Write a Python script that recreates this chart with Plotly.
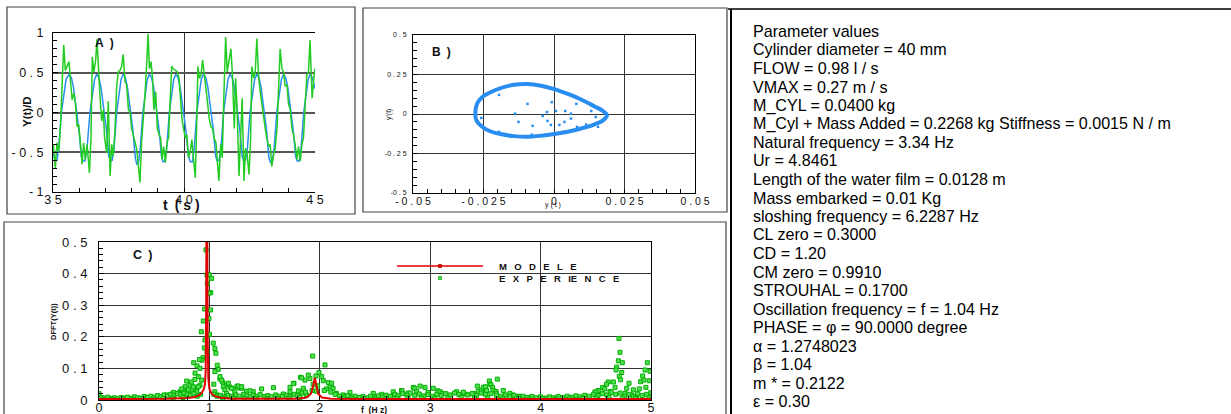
import plotly.graph_objects as go

W, H = 1231, 414

# ---------------- Panel A : Y(t)/D time series ----------------
tA_model = [35.00, 35.08, 35.15, 35.22, 35.32, 35.41, 35.50, 35.62,
            35.70, 35.78, 35.89, 35.99, 36.08, 36.14, 36.22, 36.30, 36.41, 36.50, 36.59, 36.67,
            36.75, 36.83, 36.94, 37.04, 37.13, 37.19, 37.26, 37.33, 37.43, 37.52, 37.60, 37.68,
            37.76, 37.84, 37.95, 38.05, 38.14, 38.20, 38.26, 38.33, 38.43, 38.52, 38.60, 38.68,
            38.76, 38.84, 38.95, 39.05, 39.14, 39.20, 39.27, 39.34, 39.44, 39.53, 39.61, 39.69,
            39.77, 39.86, 39.97, 40.07, 40.17, 40.24, 40.32, 40.39, 40.49, 40.58, 40.66, 40.75,
            40.83, 40.91, 41.02, 41.12, 41.21, 41.27, 41.34, 41.41, 41.51, 41.60, 41.68, 41.76,
            41.84, 41.92, 42.03, 42.13, 42.22, 42.28, 42.35, 42.42, 42.52, 42.61, 42.70, 42.78,
            42.86, 42.94, 43.05, 43.15, 43.24, 43.30, 43.37, 43.44, 43.54, 43.63, 43.72, 43.80,
            43.88, 43.96, 44.07, 44.17, 44.26, 44.32, 44.40, 44.47, 44.57, 44.66, 44.74, 44.82,
            44.90, 45.00]
yA_model = [-0.50, -0.61, -0.60, -0.45, 0.00, 0.24, 0.42, 0.48,
            0.44, 0.32, 0.06, -0.22, -0.55, -0.61, -0.61, -0.45, 0.00, 0.24, 0.42, 0.48,
            0.44, 0.32, 0.06, -0.22, -0.55, -0.60, -0.60, -0.45, 0.00, 0.24, 0.42, 0.48,
            0.44, 0.32, 0.06, -0.22, -0.57, -0.65, -0.64, -0.45, 0.00, 0.24, 0.42, 0.48,
            0.44, 0.32, 0.06, -0.22, -0.55, -0.62, -0.61, -0.45, 0.00, 0.24, 0.42, 0.48,
            0.44, 0.30, 0.06, -0.22, -0.55, -0.62, -0.62, -0.45, 0.00, 0.24, 0.42, 0.48,
            0.44, 0.32, 0.06, -0.22, -0.55, -0.61, -0.60, -0.45, 0.00, 0.24, 0.42, 0.48,
            0.44, 0.32, 0.06, -0.22, -0.55, -0.61, -0.60, -0.45, 0.00, 0.24, 0.42, 0.48,
            0.44, 0.32, 0.06, -0.22, -0.57, -0.63, -0.62, -0.45, 0.00, 0.24, 0.42, 0.48,
            0.44, 0.32, 0.06, -0.22, -0.55, -0.61, -0.61, -0.45, 0.00, 0.24, 0.42, 0.48,
            0.44, 0.30]

tA_exp = [35.01, 35.09, 35.15, 35.22, 35.28, 35.34, 35.41, 35.47, 35.55, 35.61, 35.67, 35.73,
          35.79, 35.85, 35.92, 35.98, 36.04, 36.11, 36.17, 36.23, 36.30, 36.39, 36.45, 36.50,
          36.56, 36.63, 36.68, 36.74, 36.79, 36.86, 36.92, 36.97, 37.05, 37.11, 37.18, 37.24,
          37.30, 37.37, 37.43, 37.49, 37.56, 37.62, 37.68, 37.75, 37.81, 37.88, 37.94, 38.00,
          38.07, 38.13, 38.19, 38.26, 38.32, 38.38, 38.45, 38.51, 38.58, 38.63, 38.68, 38.74,
          38.80, 38.85, 38.92, 38.98, 39.05, 39.11, 39.16, 39.22, 39.29, 39.35, 39.41, 39.48,
          39.53, 39.59, 39.67, 39.75, 39.81, 39.87, 39.92, 39.98, 40.05, 40.11, 40.17, 40.24,
          40.30, 40.37, 40.43, 40.48, 40.53, 40.59, 40.65, 40.71, 40.77, 40.84, 40.90, 40.96,
          41.03, 41.09, 41.15, 41.22, 41.28, 41.33, 41.40, 41.46, 41.52, 41.59, 41.65, 41.71,
          41.79, 41.85, 41.92, 41.97, 42.03, 42.10, 42.16, 42.22, 42.29, 42.35, 42.41, 42.48,
          42.54, 42.59, 42.66, 42.72, 42.78, 42.85, 42.91, 42.97, 43.04, 43.10, 43.16, 43.23,
          43.29, 43.35, 43.42, 43.48, 43.55, 43.61, 43.67, 43.74, 43.80, 43.86, 43.93, 43.99,
          44.05, 44.12, 44.18, 44.25, 44.31, 44.37, 44.44, 44.50, 44.56, 44.63, 44.69, 44.75,
          44.81, 44.89, 44.99]
yA_exp = [-0.40, -0.70, -0.38, -0.49, -0.20, 0.22, 0.85, 0.53, 0.60, 0.64, 0.39, 0.16,
          0.24, 0.14, -0.18, -0.15, -0.36, -0.65, -0.38, -0.59, -0.40, -0.76, -0.32, 0.70,
          0.51, 0.66, 0.92, 0.45, 0.22, -0.11, 0.03, -0.32, -0.51, 0.14, -0.80, -0.40,
          -0.55, -0.20, 0.33, 0.51, 0.53, 0.58, 0.73, 0.39, 0.35, 0.03, 0.01, -0.20,
          -0.28, -0.36, -0.45, -0.68, -0.88, -0.38, -0.11, 0.22, 0.64, 0.99, 0.55, 0.64,
          0.43, 0.03, 0.26, -0.20, -0.28, -0.32, -0.59, -0.43, -0.63, -0.38, -0.32, 0.22,
          0.58, 0.55, 0.53, 0.51, 0.43, 0.18, -0.07, -0.20, -0.32, -0.28, -0.57, -0.49,
          -0.34, -0.61, -0.82, -0.20, 0.58, 0.43, 0.47, 0.66, 0.51, 0.33, 0.12, -0.07,
          -0.18, -0.20, -0.32, -0.38, -0.65, -0.86, -0.40, -0.57, 0.18, 0.95, 0.51, 0.66,
          0.80, 0.47, -0.20, 0.43, 0.01, -0.80, -0.32, 0.18, -0.86, -0.45, -0.53, -0.78,
          -0.36, 0.58, 0.43, 0.51, 0.93, 0.45, 0.26, 0.10, -0.07, -0.20, -0.32, -0.43,
          -0.40, -0.68, -0.53, -0.45, -0.20, 0.33, 0.80, 0.55, 0.51, 0.33, 0.35, 0.10,
          0.05, -0.20, -0.28, -0.43, -0.59, -0.43, -0.61, -0.40, -0.32, 0.14, 0.47, 0.51,
          0.91, 0.18, 0.55]

A_xticks = [35, 40, 45]
A_xtext = ["3 5", "4 0", "4 5"]
A_yticks = [-1, -0.5, 0, 0.5, 1]
A_ytext = ["- 1", "- 0 . 5", "0", "0 . 5", "1"]

# ---------------- Panel B : phase portrait ----------------
loop_x = [-0.0279, -0.0273, -0.0255, -0.0225, -0.0189, -0.0142, -0.0094, -0.0046, 0.0001,
          0.0049, 0.0096, 0.0144, 0.0174, 0.0188, 0.0174, 0.0144, 0.0096, 0.0049, 0.0001,
          -0.0046, -0.0094, -0.0142, -0.0189, -0.0231, -0.0261, -0.0275, -0.0279]
loop_y = [-0.008, 0.064, 0.106, 0.1375, 0.164, 0.185, 0.190, 0.179, 0.158,
          0.127, 0.092, 0.048, 0.019, -0.008, -0.040, -0.065, -0.092, -0.1125, -0.127,
          -0.1375, -0.144, -0.140, -0.127, -0.106, -0.071, -0.040, -0.008]
dots_x = [-0.0195, -0.0094, -0.0008, -0.0138, -0.0258, -0.0025, 0.0007, 0.0040, -0.0040,
          0.0060, 0.0079, 0.0132, 0.0148, -0.0023, -0.0126, -0.0076, -0.0011, 0.0019,
          0.0037, 0.0060, 0.0082, 0.0114, 0.0156, -0.0195, -0.0079, 0.0037]
dots_y = [0.121, 0.064, 0.075, 0.002, -0.025, 0.0125, 0.019, 0.019, -0.0125,
          0.002, 0.064, 0.019, -0.019, -0.044, -0.050, -0.075, -0.069, -0.069,
          -0.050, -0.029, -0.081, -0.067, -0.081, -0.1125, -0.131, -0.1125]

B_xticks = [-0.05, -0.025, 0, 0.025, 0.05]
B_xtext = ["- 0 . 0 5", "- 0 . 0 2 5", "0", "0 . 0 2 5", "0 . 0 5"]
B_yticks = [-0.5, -0.25, 0, 0.25, 0.5]
B_ytext = ["-0 . 5", "-0 . 2 5", "0", "0 . 2 5", "0 . 5"]

# ---------------- Panel C : spectra ----------------
f_model = [0.0, 0.3, 0.6, 0.8, 0.86, 0.9, 0.93, 0.95, 0.96, 0.966, 0.971, 0.975, 0.979,
           0.984, 0.99, 1.0, 1.02, 1.05, 1.1, 1.2, 1.5, 1.8, 1.88, 1.92, 1.94, 1.955,
           1.97, 1.985, 2.02, 2.1, 2.5, 3.0, 3.5, 4.0, 4.5, 5.0]
a_model = [0.003, 0.003, 0.004, 0.006, 0.009, 0.014, 0.022, 0.035, 0.05, 0.09, 0.3, 0.8, 0.8,
           0.2, 0.07, 0.035, 0.02, 0.012, 0.007, 0.004, 0.003, 0.004, 0.008, 0.02, 0.045, 0.07,
           0.045, 0.02, 0.008, 0.004, 0.003, 0.003, 0.003, 0.003, 0.003, 0.003]

f_exp = [
    # around 1 Hz
    0.969, 0.978, 0.999, 1.020, 0.981, 1.012, 0.998, 0.957, 1.011, 0.945, 0.996, 0.927,
    0.981, 1.000, 0.960, 1.035, 1.050, 1.059, 0.954, 0.978, 0.942, 0.933, 0.909, 0.858,
    0.888, 1.071, 1.080, 1.050, 0.915, 0.794, 0.824, 0.780, 0.839, 0.869, 0.900, 0.930,
    0.915, 0.888, 0.764, 0.733, 0.673, 0.612, 1.095, 1.120, 1.156, 1.187, 1.217, 1.250,
    1.276, 1.336, 1.397, 1.473, 1.580, 1.670, 1.730, 0.839, 0.884, 0.809, 0.719, 0.854,
    1.126, 1.140, 1.171, 1.200, 1.230, 1.290, 1.156, 1.066, 1.050, 0.900, 1.040, 0.750,
    0.810, 0.870, 1.110, 1.096, 1.262, 1.293, 1.368,
    # around 2 Hz
    1.766, 1.806, 1.826, 1.851, 1.866, 1.881, 1.911, 1.936, 1.965, 1.993, 2.017, 2.032,
    2.047, 2.077, 2.092, 2.107, 2.120, 2.150, 2.210, 2.273, 1.730, 1.940, 1.980, 2.060,
    1.896, 1.836, 1.760,
    # 2.5 - 3.1 Hz
    2.484, 2.560, 2.665, 2.670, 2.740, 2.745, 2.800, 2.847, 2.860, 2.877, 2.908, 2.953,
    2.980, 3.028, 3.070, 3.090, 3.110,
    # 3.2 - 3.8 Hz
    3.240, 3.300, 3.330, 3.391, 3.427, 3.436, 3.465, 3.481, 3.500, 3.511, 3.536, 3.541,
    3.550, 3.565, 3.570, 3.595, 3.600, 3.608, 3.662, 3.722, 3.750, 3.804,
    # 4.4 - 5 Hz
    4.710, 4.719, 4.704, 4.740, 4.689, 4.683, 4.735, 4.713, 4.725, 4.613, 4.659, 4.674,
    4.598, 4.562, 4.523, 4.492, 4.801, 4.780, 4.840, 4.825, 4.894, 4.906, 4.924, 4.946,
    4.967, 4.991, 4.936, 4.985, 4.954, 4.997, 4.869, 4.765, 4.628, 4.580, 4.500,
    # background band
    0.00, 0.02, 0.05, 0.08, 0.11, 0.14, 0.17, 0.20, 0.23, 0.26, 0.29, 0.32, 0.35, 0.38,
    0.41, 0.44, 0.47, 0.50, 0.53, 0.56, 0.59, 0.62, 0.65, 0.68, 0.71, 0.74, 0.77, 0.80,
    0.83, 0.86, 0.89, 0.92, 1.04, 1.07, 1.10, 1.13, 1.17, 1.20, 1.24, 1.27, 1.31, 1.34,
    1.37, 1.40, 1.43, 1.46, 1.50, 1.53, 1.56, 1.60, 1.63, 1.66, 1.70, 1.73, 1.77, 1.80,
    1.84, 1.87, 1.93, 1.97, 2.04, 2.10, 2.14, 2.18, 2.22, 2.25, 2.29, 2.32, 2.36, 2.39,
    2.43, 2.46, 2.50, 2.53, 2.57, 2.60, 2.64, 2.68, 2.71, 2.75, 2.79, 2.82, 2.86, 2.90,
    2.94, 2.98, 3.02, 3.06, 3.10, 3.14, 3.18, 3.22, 3.26, 3.30, 3.34, 3.38, 3.42, 3.46,
    3.50, 3.55, 3.60, 3.64, 3.68, 3.72, 3.76, 3.80, 3.84, 3.88, 3.92, 3.96, 4.00, 4.04,
    4.08, 4.12, 4.16, 4.20, 4.24, 4.28, 4.32, 4.36, 4.40, 4.44, 4.48, 4.52, 4.56, 4.60,
    4.64, 4.68, 4.72, 4.76, 4.80, 4.84, 4.88, 4.92, 4.96, 5.00,
    0.04, 0.12, 0.22, 0.31, 0.40, 0.49, 0.58, 0.67, 0.76, 1.12, 1.22, 1.32, 1.42, 1.52,
    1.62, 1.72, 1.82, 2.20, 2.30, 2.40, 2.50, 2.60, 2.70, 2.80, 2.92, 3.04, 3.16, 3.28,
    3.40, 3.52, 3.66, 3.78, 3.90, 4.02, 4.14, 4.26, 4.38, 4.50, 4.62, 4.74, 4.86, 4.98]
a_exp = [
    0.475, 0.396, 0.396, 0.385, 0.369, 0.340, 0.338, 0.288, 0.285, 0.250, 0.258, 0.216,
    0.205, 0.208, 0.190, 0.180, 0.163, 0.148, 0.165, 0.153, 0.134, 0.126, 0.128, 0.118,
    0.108, 0.110, 0.097, 0.090, 0.100, 0.060, 0.047, 0.042, 0.057, 0.065, 0.074, 0.063,
    0.047, 0.037, 0.031, 0.026, 0.024, 0.016, 0.067, 0.057, 0.048, 0.041, 0.036, 0.044,
    0.038, 0.028, 0.026, 0.035, 0.039, 0.019, 0.026, 0.026, 0.026, 0.021, 0.021, 0.042,
    0.042, 0.032, 0.053, 0.037, 0.026, 0.037, 0.021, 0.016, 0.026, 0.042, 0.050, 0.035,
    0.032, 0.085, 0.063, 0.074, 0.044, 0.042, 0.029,
    0.053, 0.029, 0.072, 0.037, 0.063, 0.016, 0.068, 0.139, 0.076, 0.087, 0.074, 0.061,
    0.111, 0.055, 0.042, 0.053, 0.037, 0.021, 0.016, 0.024, 0.040, 0.050, 0.045, 0.035,
    0.079, 0.070, 0.052,
    0.021, 0.018, 0.026, 0.016, 0.030, 0.029, 0.022, 0.040, 0.037, 0.027, 0.044, 0.040,
    0.024, 0.037, 0.029, 0.026, 0.021,
    0.026, 0.021, 0.018, 0.021, 0.044, 0.027, 0.031, 0.040, 0.042, 0.030, 0.060, 0.050,
    0.048, 0.040, 0.031, 0.027, 0.021, 0.066, 0.030, 0.021, 0.016, 0.012,
    0.195, 0.151, 0.124, 0.118, 0.104, 0.095, 0.087, 0.075, 0.064, 0.057, 0.057, 0.040,
    0.050, 0.040, 0.030, 0.025, 0.053, 0.037, 0.032, 0.016, 0.035, 0.058, 0.076, 0.095,
    0.118, 0.091, 0.063, 0.061, 0.040, 0.023, 0.012, 0.021, 0.027, 0.035, 0.026,
    0.020, 0.008, 0.006, 0.009, 0.005, 0.007, 0.004, 0.008, 0.006, 0.009, 0.005, 0.010,
    0.007, 0.006, 0.011, 0.008, 0.012, 0.009, 0.014, 0.011, 0.016, 0.012, 0.018, 0.014,
    0.020, 0.017, 0.022, 0.018, 0.015, 0.020, 0.012, 0.018, 0.018, 0.012, 0.015, 0.010,
    0.014, 0.011, 0.016, 0.012, 0.018, 0.013, 0.010, 0.015, 0.012, 0.017, 0.011, 0.014,
    0.010, 0.016, 0.012, 0.011, 0.015, 0.012, 0.018, 0.014, 0.022, 0.025, 0.030, 0.028,
    0.030, 0.025, 0.018, 0.012, 0.010, 0.014, 0.009, 0.012, 0.008, 0.011, 0.007, 0.012,
    0.009, 0.013, 0.010, 0.015, 0.012, 0.018, 0.014, 0.020, 0.016, 0.022, 0.015, 0.019,
    0.013, 0.017, 0.012, 0.018, 0.014, 0.020, 0.016, 0.022, 0.018, 0.025, 0.016, 0.020,
    0.015, 0.022, 0.018, 0.020, 0.015, 0.012, 0.016, 0.010, 0.014, 0.009, 0.012, 0.008,
    0.011, 0.007, 0.010, 0.006, 0.010, 0.007, 0.011, 0.008, 0.012, 0.009, 0.013, 0.010,
    0.015, 0.012, 0.018, 0.014, 0.020, 0.016, 0.024, 0.018, 0.022, 0.012, 0.018, 0.010,
    0.020, 0.014, 0.018, 0.012,
    0.003, 0.002, 0.003, 0.002, 0.004, 0.003, 0.005, 0.006, 0.008, 0.006, 0.005, 0.004,
    0.005, 0.004, 0.005, 0.006, 0.008, 0.004, 0.003, 0.004, 0.003, 0.005, 0.006, 0.007,
    0.006, 0.005, 0.007, 0.008, 0.007, 0.006, 0.005, 0.004, 0.003, 0.004, 0.003, 0.004,
    0.005, 0.006, 0.008, 0.006, 0.005, 0.006]

C_xticks = [0, 1, 2, 3, 4, 5]
C_xtext = ["0", "1", "2", "3", "4", "5"]
C_yticks = [0, 0.1, 0.2, 0.3, 0.4, 0.5]
C_ytext = ["0", "0 . 1", "0 . 2", "0 . 3", "0 . 4", "0 . 5"]

legend_names = ["M\u00a0\u2002O\u00a0\u2002D\u00a0\u2002E\u00a0\u2002L\u00a0\u2002E",
                "E\u00a0\u2002X\u00a0\u2002P\u00a0\u2002E\u00a0\u2002R\u00a0\u2002IE\u00a0\u2002N\u00a0\u2002C\u00a0\u2002E"]

# ---------------- Parameter text ----------------
param_lines = [
    "Parameter values",
    "Cylinder diameter = 40 mm",
    "FLOW = 0.98 l / s",
    "VMAX = 0.27 m / s",
    "M_CYL = 0.0400 kg",
    "M_Cyl + Mass Added = 0.2268 kg Stiffness = 0.0015 N / m",
    "Natural frequency = 3.34 Hz",
    "Ur = 4.8461",
    "Length of the water film = 0.0128 m",
    "Mass embarked = 0.01 Kg",
    "sloshing frequency = 6.2287 Hz",
    "CL zero = 0.3000",
    "CD = 1.20",
    "CM zero = 0.9910",
    "STROUHAL = 0.1700",
    "Oscillation frequency = f = 1.04 Hz",
    "PHASE = \u03c6 = 90.0000 degree",
    "\u03b1 = 1.2748023",
    "\u03b2 = 1.04",
    "m * = 0.2122",
    "\u03b5 = 0.30",
]

# ---------------- helpers (pixel -> paper) ----------------
def px(x):
    return x / W


def py(y):
    return 1 - y / H


FONT = "Liberation Sans, Arial, Helvetica, sans-serif"
BLUE = "#2a8ef0"
GREEN = "#22cc22"
RED = "#e00000"

fig = go.Figure()

fig.add_trace(go.Scatter(x=tA_model, y=yA_model, mode="lines", xaxis="x", yaxis="y",
                         line=dict(color=BLUE, width=1.5), showlegend=False))
fig.add_trace(go.Scatter(x=tA_exp, y=yA_exp, mode="lines", xaxis="x", yaxis="y",
                         line=dict(color=GREEN, width=1.5), showlegend=False))

fig.add_trace(go.Scatter(x=loop_x, y=loop_y, mode="lines", xaxis="x2", yaxis="y2",
                         line=dict(color=BLUE, width=4, shape="spline", smoothing=1.0),
                         showlegend=False))
fig.add_trace(go.Scatter(x=dots_x, y=dots_y, mode="markers", xaxis="x2", yaxis="y2",
                         marker=dict(color=BLUE, size=2.5, symbol="square"),
                         showlegend=False))

fig.add_trace(go.Scatter(x=f_exp, y=a_exp, mode="markers", xaxis="x3", yaxis="y3",
                         marker=dict(color="#55dd55", size=4, symbol="square",
                                     line=dict(color="#00b000", width=1)),
                         showlegend=False))
fig.add_trace(go.Scatter(x=f_model, y=a_model, mode="lines", xaxis="x3", yaxis="y3",
                         line=dict(color=RED, width=2), showlegend=False))


def axis_common(**kw):
    d = dict(showline=True, linecolor="black", linewidth=1, ticks="inside",
             tickcolor="black", zeroline=False, showgrid=True, gridcolor="#333",
             gridwidth=1, tickmode="array", fixedrange=True, automargin=False,
             tickfont=dict(family=FONT, size=12, color="#111"))
    d.update(kw)
    return d


fig.update_layout(
    template="none",
    width=W, height=H, autosize=False,
    margin=dict(l=0, r=0, t=0, b=0, pad=0, autoexpand=False),
    paper_bgcolor="white", plot_bgcolor="white",
    font=dict(family=FONT, color="#111"),
    showlegend=False,
    xaxis=axis_common(domain=[px(53), px(315)], range=[35, 45], anchor="y",
                      tickvals=A_xticks, ticktext=A_xtext, ticklen=4, mirror=True,
                      ticklabelstandoff=-4,
                      tickfont=dict(family=FONT, size=12.5, color="#111"),
                      minor=dict(ticks="inside", dtick=1, tick0=35, ticklen=4,
                                 tickcolor="black", showgrid=False)),
    yaxis=axis_common(domain=[py(192), py(33)], range=[-1, 1], anchor="x",
                      tickvals=A_yticks, ticktext=A_ytext, ticklen=5, gridcolor="#555",
                      gridwidth=1.5, ticklabelstandoff=6,
                      tickfont=dict(family=FONT, size=12.5, color="#111"),
                      minor=dict(ticks="inside", dtick=0.1, tick0=0, ticklen=4,
                                 tickcolor="black", showgrid=False)),
    xaxis2=axis_common(domain=[px(413), px(695)], range=[-0.05, 0.05], anchor="y2",
                       tickvals=B_xticks, ticktext=B_xtext, ticklen=4, mirror=True,
                       ticklabelstandoff=-2,
                       tickfont=dict(family=FONT, size=10.5, color="#111"),
                       minor=dict(ticks="inside", dtick=0.005, tick0=0, ticklen=4,
                                  tickcolor="black", showgrid=False)),
    yaxis2=axis_common(domain=[py(193), py(35)], range=[-0.5, 0.5], anchor="x2",
                       tickvals=B_yticks, ticktext=B_ytext, ticklen=4, mirror=True,
                       ticklabelstandoff=4,
                       tickfont=dict(family=FONT, size=7, color="#111"),
                       minor=dict(ticks="inside", dtick=0.05, tick0=0, ticklen=4,
                                  tickcolor="black", showgrid=False)),
    xaxis3=axis_common(domain=[px(99), px(651)], range=[0, 5], anchor="y3",
                       tickvals=C_xticks, ticktext=C_xtext, ticklen=4, mirror=True,
                       ticklabelstandoff=-4,
                       tickfont=dict(family=FONT, size=12.5, color="#111"),
                       minor=dict(ticks="inside", dtick=0.2, tick0=0, ticklen=4,
                                  tickcolor="black", showgrid=False)),
    yaxis3=axis_common(domain=[py(400), py(242)], range=[0, 0.5], anchor="x3",
                       tickvals=C_yticks, ticktext=C_ytext, ticklen=5, mirror=True,
                       ticklabelstandoff=8,
                       tickfont=dict(family=FONT, size=13, color="#111"),
                       minor=dict(ticks="inside", dtick=0.02, tick0=0, ticklen=4,
                                  tickcolor="black", showgrid=False)),
)

shapes = []
# panel frames
for (x0, y0, x1, y1) in [(7, 7, 355, 214), (363, 8, 727, 212), (4, 222, 726, 430)]:
    shapes.append(dict(type="rect", xref="paper", yref="paper", x0=px(x0), x1=px(x1),
                       y0=py(y1), y1=py(y0), line=dict(color="#444", width=1.2),
                       fillcolor="rgba(0,0,0,0)", layer="below"))
# text box borders
shapes.append(dict(type="line", xref="paper", yref="paper", x0=px(731), x1=px(731),
                   y0=py(420), y1=py(9), line=dict(color="black", width=2)))
shapes.append(dict(type="line", xref="paper", yref="paper", x0=px(728), x1=px(1235),
                   y0=py(9), y1=py(9), line=dict(color="black", width=1.5)))
# legend keys for panel C
shapes.append(dict(type="line", xref="paper", yref="paper", x0=px(397), x1=px(483),
                   y0=py(266), y1=py(266), line=dict(color=RED, width=1.3)))
shapes.append(dict(type="rect", xref="paper", yref="paper", x0=px(438.5), x1=px(441.5),
                   y0=py(267.5), y1=py(264.5), line=dict(color="#b00000", width=0.8),
                   fillcolor=RED))
shapes.append(dict(type="rect", xref="paper", yref="paper", x0=px(438.5), x1=px(441.5),
                   y0=py(279.5), y1=py(276.5), line=dict(color="#00b000", width=0.8),
                   fillcolor="#55dd55"))
fig.update_layout(shapes=shapes)

ann = []


def add_text(text, x, y, size, bold=False, xanchor="center", yanchor="middle", angle=0,
             color="#111"):
    t = "<b>%s</b>" % text if bold else text
    ann.append(dict(text=t, x=px(x), y=py(y), xref="paper", yref="paper", showarrow=False,
                    xanchor=xanchor, yanchor=yanchor, textangle=angle,
                    font=dict(family=FONT, size=size, color=color)))


# panel labels
add_text("A\u2002)", 104, 43, 12, bold=True)
add_text("B\u2002)", 441, 52, 12, bold=True)
add_text("C\u2002)", 142, 255, 12.5, bold=True)
# axis titles
add_text("Y(t)/D", 27, 111, 11.5, bold=True, angle=-90)
add_text("t\u2002(\u00a0s\u00a0)", 181, 205, 14, bold=True)
add_text("y'(t)", 389, 115, 7, angle=-90)
add_text("y ( t )", 553, 205, 7)
add_text("DFFT(Y(t))", 53, 322, 7.5, bold=True, angle=-90)
add_text("f\u00a0\u00a0(H\u00a0z)", 374, 410, 8.5, bold=True)
# legend labels
add_text(legend_names[0], 497, 266, 9.5, bold=True, xanchor="left")
add_text(legend_names[1], 497, 278, 9.5, bold=True, xanchor="left")

# parameter block
for i, line in enumerate(param_lines):
    add_text(line, 750.5, 31 + 18.5 * i, 16.1, xanchor="left", color="black")

fig.update_layout(annotations=ann)

fig.write_html("out.html", config={"displayModeBar": False},
               post_script="document.body.style.margin='0px';")
